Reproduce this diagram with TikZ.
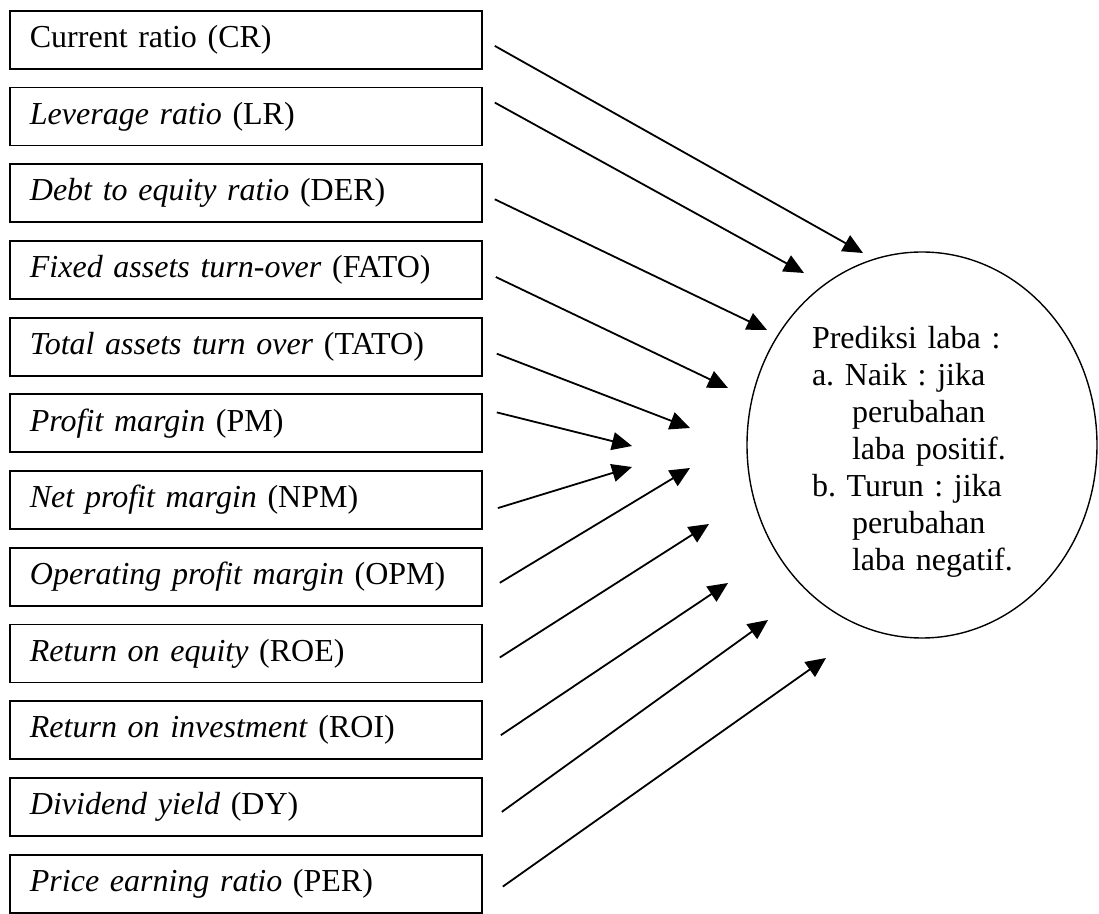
\documentclass[tikz,border=0pt]{standalone}
\usepackage{fontspec}
\setmainfont{Liberation Serif}
\frenchspacing
\usepackage{tikz}
\usetikzlibrary{positioning}
\usetikzlibrary{arrows.meta,shapes.geometric}

\begin{document}
\begin{tikzpicture}[x=0.5pt,y=-0.5pt,
    ratiobox/.style={draw, line width=0.9pt, minimum height=29pt, text width=216pt,
        inner xsep=10pt, inner ysep=0pt, align=left, font=\fontsize{16}{18.5}\selectfont},
    link/.style={line width=0.9pt, -{Triangle[length=10pt,width=9pt]}}]
    \useasboundingbox (0,0) rectangle (1099,914);
    \begin{scope}[node distance=8.45pt]
        \node(cr)[ratiobox, anchor=north west] at (9,10) {Current ratio (CR)};
        \node(lr)[ratiobox, below=of cr] {\textit{Leverage ratio} (LR)};
        \node(der)[ratiobox, below=of lr] {\textit{Debt to equity ratio} (DER)};
        \node(fato)[ratiobox, below=of der] {\textit{Fixed assets turn-over} (FATO)};
        \node(tato)[ratiobox, below=of fato] {\textit{Total assets turn over} (TATO)};
        \node(pm)[ratiobox, below=of tato] {\textit{Profit margin} (PM)};
        \node(npm)[ratiobox, below=of pm] {\textit{Net profit margin} (NPM)};
        \node(opm)[ratiobox, below=of npm] {\textit{Operating profit margin} (OPM)};
        \node(roe)[ratiobox, below=of opm] {\textit{Return on equity} (ROE)};
        \node(roi)[ratiobox, below=of roe] {\textit{Return on investment} (ROI)};
        \node(dy)[ratiobox, below=of roi] {\textit{Dividend yield} (DY)};
        \node(per)[ratiobox, below=of dy] {\textit{Price earning ratio} (PER)};
    \end{scope}
    \node(laba)[draw, ellipse, line width=0.7pt, minimum width=175pt, minimum height=193pt,
        inner sep=0pt, text width=110pt, align=left, font=\fontsize{16}{18.5}\selectfont]
        at (922,445) {\rule{0pt}{18pt}Prediksi laba :\\
        a. Naik : jika\\
        \hspace*{20pt}perubahan\\
        \hspace*{20pt}laba positif.\\
        b. Turun : jika\\
        \hspace*{20pt}perubahan\\
        \hspace*{20pt}laba negatif.};
    %Arrow tips
    \coordinate (cr-tip) at (863,253);
    \coordinate (lr-tip) at (804,273);
    \coordinate (der-tip) at (767,330);
    \coordinate (fato-tip) at (728,388);
    \coordinate (tato-tip) at (690,428);
    \coordinate (pm-tip) at (632,446);
    \coordinate (npm-tip) at (632,467);
    \coordinate (opm-tip) at (690,468);
    \coordinate (roe-tip) at (709,524);
    \coordinate (roi-tip) at (728,583);
    \coordinate (dy-tip) at (768,620);
    \coordinate (per-tip) at (826,658);
    %Lines
    \foreach \n/\dx/\dy in {cr/6/-3, lr/6/7, der/6/-3, fato/6.5/-3.5, tato/7/-3.5, pm/7/5.5,
        npm/7.5/-4, opm/8.5/-3, roe/8.5/-2, roi/9/-2.5, dy/9.5/-2.5, per/10/-1.5}
        \draw[link] ([shift={(\dx pt,\dy pt)}]\n.east) -- (\n-tip);
\end{tikzpicture}
\end{document}
